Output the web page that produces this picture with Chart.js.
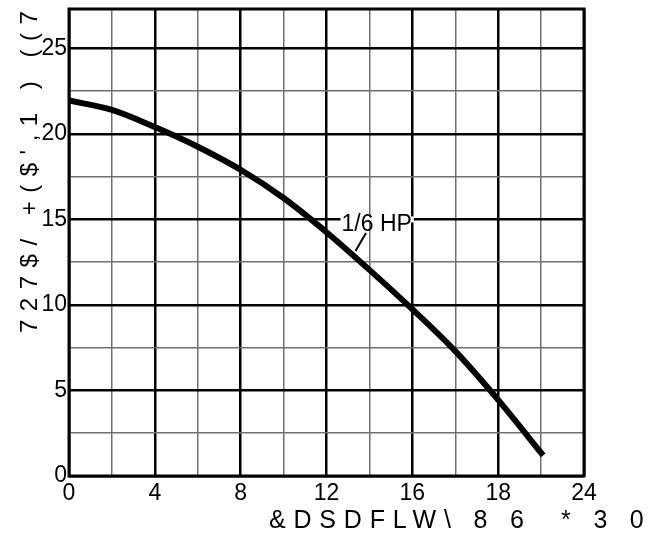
<!DOCTYPE html>
<html lang="en">
<head>
  <meta charset="UTF-8" />
  <title>Pump curve</title>
  <script src="https://cdn.jsdelivr.net/npm/chart.js"></script>
  <style>
    html, body { margin: 0; padding: 0; background: #fff; }
    canvas { display: block; }
  </style>
</head>
<body>
  <canvas id="curveChart" width="662" height="536"></canvas>
  <script>
    // capacity (x) and head (y)
    const capacity = [0, 2, 4, 6, 8, 10, 12, 14, 16, 18, 20, 22.1];
    const head = [21.95, 21.4, 20.4, 19.25, 17.9, 16.25, 14.25, 12.05, 9.75, 7.3, 4.45, 1.2];

    // x tick positions and the labels printed under them
    const xTickValues = [0, 4, 8, 12, 16, 20, 24];
    const xTickLabels = ['0', '4', '8', '12', '16', '18', '24'];
    const yTickValues = [0, 5, 10, 15, 20, 25];

    const xTitle = "&DSDFLW\\ 8 6  * 3 0";
    const yTitle = "727$/ +($',1 ) ((7";
    const curveLabel = "1/6 HP";

    const FONT = "Liberation Sans, Arial, sans-serif";

    // frame, curve label and axis titles
    const extras = {
      id: 'extras',
      beforeDatasetsDraw(chart) {
        const { ctx, chartArea: a } = chart;
        ctx.save();
        ctx.strokeStyle = '#000';
        ctx.lineWidth = 3;
        ctx.strokeRect(a.left, a.top, a.right - a.left, a.bottom - a.top);
        ctx.restore();
      },
      afterDatasetsDraw(chart) {
        const { ctx } = chart;
        const xs = chart.scales.x, ys = chart.scales.y;
        ctx.save();
        // label sits on the 15 ft line
        const lx = xs.getPixelForValue(12.7);
        const ly = ys.getPixelForValue(15);
        ctx.font = '23px ' + FONT;
        const w = ctx.measureText(curveLabel).width;
        ctx.fillStyle = '#fff';
        ctx.fillRect(lx - 1, ly - 3, w + 3, 6);
        ctx.fillStyle = '#000';
        ctx.textBaseline = 'alphabetic';
        ctx.fillText(curveLabel, lx, ly + 11.5);
        // leader down to the curve
        ctx.strokeStyle = '#000';
        ctx.lineWidth = 2;
        ctx.beginPath();
        ctx.moveTo(xs.getPixelForValue(13.84), ys.getPixelForValue(14.2));
        ctx.lineTo(xs.getPixelForValue(13.35), ys.getPixelForValue(13.15));
        ctx.stroke();
        ctx.restore();
      },
      afterDraw(chart) {
        const { ctx } = chart;
        ctx.save();
        ctx.fillStyle = '#000';
        ctx.font = '25px ' + FONT;
        ctx.textBaseline = 'alphabetic';
        ctx.textAlign = 'left';
        ctx.letterSpacing = '7.8px';
        ctx.fillText(xTitle, 269, 528);
        ctx.font = '24px ' + FONT;
        ctx.letterSpacing = '8.5px';
        ctx.translate(37, 333);
        ctx.rotate(-Math.PI / 2);
        ctx.fillText(yTitle, 0, 0);
        ctx.restore();
      }
    };

    const gridColor = (major) => (c) => (c.tick && c.tick.value % major === 0) ? '#000' : '#707070';
    const gridWidth = (major) => (c) => (c.tick && c.tick.value % major === 0) ? 2.5 : 1.5;

    new Chart(document.getElementById('curveChart'), {
      type: 'line',
      data: {
        datasets: [{
          label: curveLabel,
          data: capacity.map((x, i) => ({ x: x, y: head[i] })),
          borderColor: '#000',
          borderWidth: 6,
          pointRadius: 0,
          cubicInterpolationMode: 'monotone',
          borderCapStyle: 'butt',
          fill: false
        }]
      },
      options: {
        responsive: false,
        animation: false,
        devicePixelRatio: 1,
        layout: { padding: { left: 0, right: 78, top: 9, bottom: 0 } },
        plugins: { legend: { display: false }, tooltip: { enabled: false } },
        scales: {
          x: {
            type: 'linear',
            min: 0,
            max: 24,
            border: { display: false },
            grid: { color: gridColor(4), lineWidth: gridWidth(4), drawTicks: false },
            ticks: {
              stepSize: 2,
              autoSkip: false,
              maxRotation: 0,
              padding: 4,
              color: '#000',
              font: { family: FONT, size: 23 },
              callback: (v) => {
                const i = xTickValues.indexOf(v);
                return i >= 0 ? xTickLabels[i] : '';
              }
            },
            afterFit: (s) => { s.height = 60; s.paddingLeft = 0; s.paddingRight = 0; }
          },
          y: {
            type: 'linear',
            min: 0,
            max: 27.3,
            border: { display: false },
            grid: { color: gridColor(5), lineWidth: gridWidth(5), drawTicks: false },
            ticks: {
              stepSize: 2.5,
              includeBounds: false,
              padding: 2,
              color: '#000',
              font: { family: FONT, size: 23 },
              callback: (v) => yTickValues.includes(v) ? String(v) : ''
            },
            afterFit: (s) => { s.width = 69; s.paddingTop = 0; s.paddingBottom = 0; }
          }
        }
      },
      plugins: [extras]
    });
  </script>
</body>
</html>
